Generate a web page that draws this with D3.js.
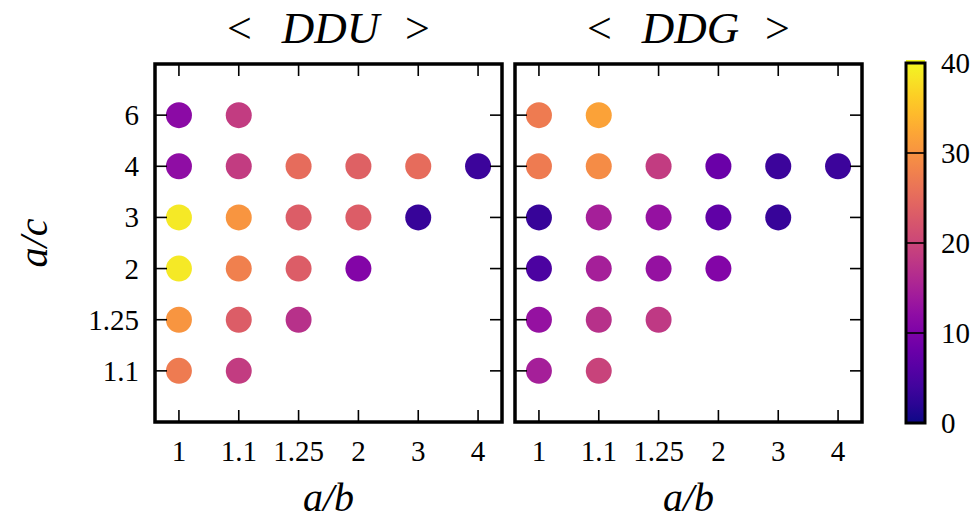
<!DOCTYPE html>
<html>
<head>
<meta charset="utf-8">
<script src="https://cdn.jsdelivr.net/npm/d3@7"></script>
<style>
  body { margin: 0; background: #fff; }
  text { font-family: "Liberation Serif", "DejaVu Serif", serif; fill: #000; }
</style>
</head>
<body>
<svg id="chart" width="976" height="521"></svg>
<script>
// category labels (index order: left->right, bottom->top)
var xCats = ["1", "1.1", "1.25", "2", "3", "4"];
var yCats = ["1.1", "1.25", "2", "3", "4", "6"];
var titles = ["DDU", "DDG"];
var cbTicks = [0, 10, 20, 30, 40];

// values per row of yCats (null = no point), columns follow xCats
var dduValues = [
  [27, 18.5, null, null, null, null],   // 1.1
  [30, 23, 17, null, null, null],       // 1.25
  [38.5, 27.5, 23, 10.5, null, null],   // 2
  [38.5, 30, 23, 23, 3, null],          // 3
  [12, 18.5, 25, 23.5, 25, 3.5],        // 4
  [11.5, 18.5, null, null, null, null]  // 6
];
var ddgValues = [
  [14.5, 19.5, null, null, null, null],
  [12.5, 17, 18, null, null, null],
  [5, 14.5, 12.5, 10.5, null, null],
  [3, 14.5, 12.5, 7, 3, null],
  [27, 29, 18.5, 8, 3.5, 3.5],
  [27, 31.5, null, null, null, null]
];

var svg = d3.select("#chart");
var panels = [
  { left: 155, right: 502, title: titles[0], data: dduValues },
  { left: 515, right: 862, title: titles[1], data: ddgValues }
];
var plotTop = 64, plotBottom = 422;
var color = d3.scaleSequential(d3.interpolatePlasma).domain([0, 40]);

panels.forEach(function (p, pi) {
  var x = d3.scaleLinear().domain([-0.4, 5.4]).range([p.left, p.right]);
  var y = d3.scaleLinear().domain([-1, 6]).range([plotBottom, plotTop]);
  var g = svg.append("g");

  var pts = [];
  p.data.forEach(function (row, ri) {
    row.forEach(function (v, ci) {
      if (v !== null) pts.push({ xi: ci, yi: ri, v: v });
    });
  });

  g.selectAll("circle").data(pts).enter().append("circle")
    .attr("cx", function (d) { return x(d.xi); })
    .attr("cy", function (d) { return y(d.yi); })
    .attr("r", 13)
    .attr("fill", function (d) { return color(d.v); });

  var tickLen = 12;
  var ticks = g.append("g").attr("stroke", "#000").attr("stroke-width", 1.6);
  xCats.forEach(function (c, i) {
    ticks.append("line").attr("x1", x(i)).attr("x2", x(i)).attr("y1", plotBottom).attr("y2", plotBottom - tickLen);
    ticks.append("line").attr("x1", x(i)).attr("x2", x(i)).attr("y1", plotTop).attr("y2", plotTop + tickLen);
  });
  yCats.forEach(function (c, i) {
    ticks.append("line").attr("y1", y(i)).attr("y2", y(i)).attr("x1", p.left).attr("x2", p.left + tickLen);
    ticks.append("line").attr("y1", y(i)).attr("y2", y(i)).attr("x1", p.right).attr("x2", p.right - tickLen);
  });

  g.append("rect")
    .attr("x", p.left).attr("y", plotTop)
    .attr("width", p.right - p.left).attr("height", plotBottom - plotTop)
    .attr("fill", "none").attr("stroke", "#000").attr("stroke-width", 3.5);

  g.selectAll(".xl").data(xCats).enter().append("text")
    .attr("x", function (d, i) { return x(i); })
    .attr("y", 461)
    .attr("text-anchor", "middle")
    .attr("font-size", 29)
    .text(function (d) { return d; });

  if (pi === 0) {
    g.selectAll(".yl").data(yCats).enter().append("text")
      .attr("x", 139)
      .attr("y", function (d, i) { return y(i) + 10; })
      .attr("text-anchor", "end")
      .attr("font-size", 29)
      .text(function (d) { return d; });
    g.append("text")
      .attr("transform", "translate(47," + ((plotTop + plotBottom) / 2) + ") rotate(-90)")
      .attr("text-anchor", "middle")
      .attr("font-size", 40)
      .attr("font-style", "italic")
      .text("a/c");
  }

  g.append("text")
    .attr("x", (p.left + p.right) / 2)
    .attr("y", 511)
    .attr("text-anchor", "middle")
    .attr("font-size", 40)
    .attr("font-style", "italic")
    .text("a/b");

  // title: "<" and ">" upright, name italic
  var cx = (p.left + p.right) / 2;
  g.append("text").attr("x", cx - 89).attr("y", 43).attr("font-size", 44)
    .attr("text-anchor", "middle").text("<");
  g.append("text").attr("x", cx + 2).attr("y", 43).attr("font-size", 45)
    .attr("text-anchor", "middle").attr("font-style", "italic").text(p.title);
  g.append("text").attr("x", cx + 89).attr("y", 43).attr("font-size", 44)
    .attr("text-anchor", "middle").text(">");
});

// colorbar
var cbX = 906, cbW = 19;
var cbY = d3.scaleLinear().domain([0, 40]).range([423, 63]);
var defs = svg.append("defs");
var grad = defs.append("linearGradient").attr("id", "cbgrad")
  .attr("x1", 0).attr("y1", 1).attr("x2", 0).attr("y2", 0);
d3.range(0, 1.0001, 0.05).forEach(function (s) {
  grad.append("stop").attr("offset", s).attr("stop-color", d3.interpolatePlasma(s));
});
svg.append("rect").attr("x", cbX).attr("y", cbY(40) - 3).attr("width", cbW).attr("height", cbY(0) - cbY(40) + 3)
  .attr("fill", "url(#cbgrad)");
var cbg = svg.append("g").attr("stroke", "#000").attr("stroke-width", 1.6);
cbTicks.forEach(function (v) {
  cbg.append("line").attr("x1", cbX).attr("x2", cbX + cbW).attr("y1", cbY(v)).attr("y2", cbY(v));
});
svg.append("rect").attr("x", cbX).attr("y", cbY(40)).attr("width", cbW).attr("height", cbY(0) - cbY(40))
  .attr("fill", "none").attr("stroke", "#000").attr("stroke-width", 3);
svg.selectAll(".cbl").data(cbTicks).enter().append("text")
  .attr("x", 941)
  .attr("y", function (d) { return cbY(d) + 10; })
  .attr("font-size", 29)
  .text(function (d) { return d; });
</script>
</body>
</html>
